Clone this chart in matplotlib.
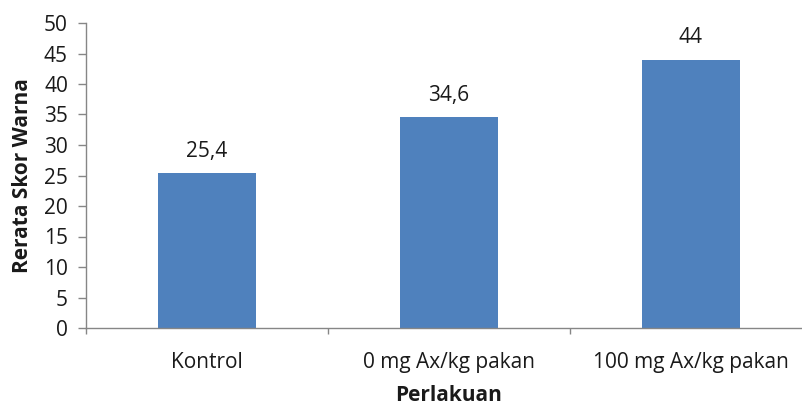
import matplotlib
matplotlib.use("Agg")
import matplotlib.pyplot as plt
from matplotlib.ticker import FixedLocator, NullFormatter

categories = ["Kontrol", "0 mg Ax/kg pakan", "100 mg Ax/kg pakan"]
values = [25.4, 34.6, 44]
value_labels = ["25,4", "34,6", "44"]
yticks = [0, 5, 10, 15, 20, 25, 30, 35, 40, 45, 50]

plt.rcParams['font.family'] = ['Open Sans', 'DejaVu Sans']

W, H = 803, 405
fig = plt.figure(figsize=(W/100, H/100), dpi=100)
left, right, bottom, top = 86, 812, 405-328, 405-23
ax = fig.add_axes([left/W, bottom/H, (right-left)/W, (top-bottom)/H])

fs = 15
x = list(range(len(categories)))
ax.bar(x, values, width=0.405, color="#4F81BD", zorder=2)
for xi, v, lab in zip(x, values, value_labels):
    ax.annotate(lab, (xi, v), xytext=(0, 8), textcoords="offset points",
                ha="center", va="bottom", fontsize=fs, color="#1a1a1a")

ax.set_xlim(-0.5, len(categories)-0.5)
ax.set_ylim(0, 50)
ax.set_yticks(yticks)
ax.set_yticklabels([str(t) for t in yticks])
ax.set_xticks(x)
ax.set_xticklabels(categories)
ax.tick_params(axis="x", which="major", length=0, pad=17, labelsize=fs, colors="#1a1a1a")
ax.xaxis.set_minor_locator(FixedLocator([-0.5, 0.5, 1.5, 2.5]))
ax.xaxis.set_minor_formatter(NullFormatter())
ax.tick_params(axis="x", which="minor", length=4, color="#868686", width=1)
ax.tick_params(axis="y", length=6, color="#868686", width=1, labelsize=fs, pad=7, labelcolor="#1a1a1a")

for s in ["top", "right"]:
    ax.spines[s].set_visible(False)
for s in ["left", "bottom"]:
    ax.spines[s].set_color("#868686")
    ax.spines[s].set_linewidth(1)

ax.set_ylabel("Rerata Skor Warna", fontsize=fs, fontweight="bold", labelpad=8, color="#1a1a1a")
ax.set_xlabel("Perlakuan", fontsize=fs, fontweight="bold", labelpad=9, color="#1a1a1a")

fig.savefig("out.png", dpi=100)
